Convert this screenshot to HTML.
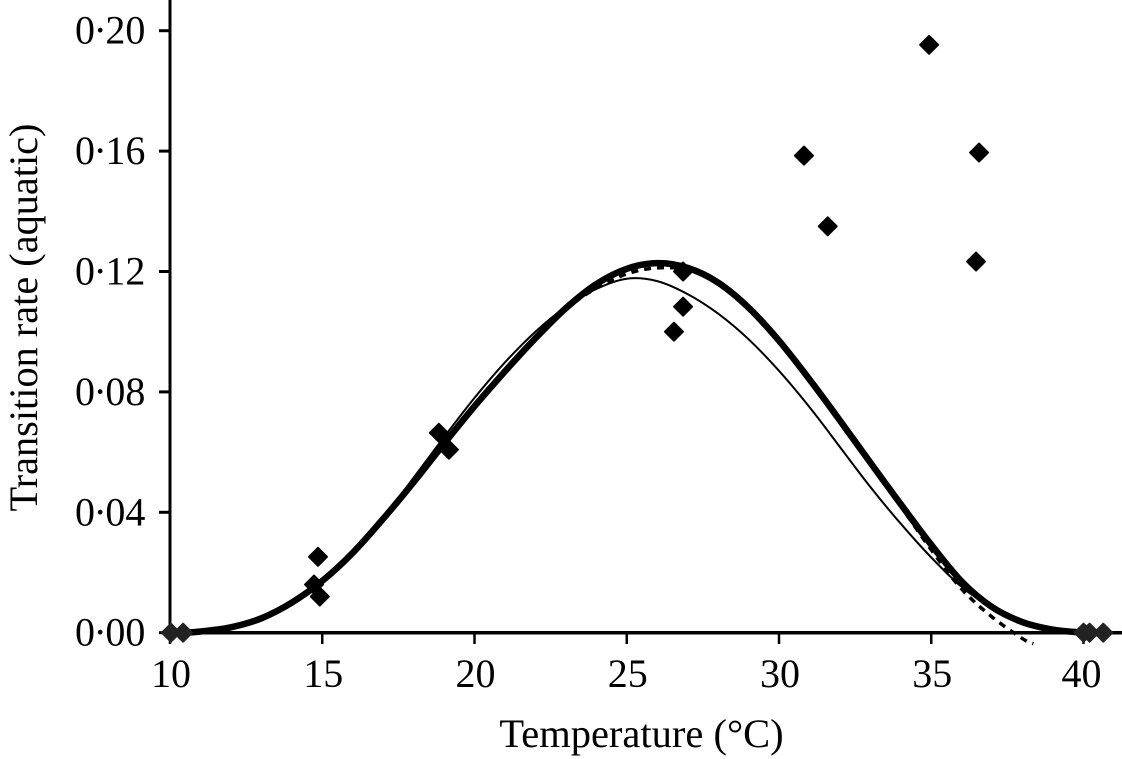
<!DOCTYPE html>
<html>
<head>
<meta charset="utf-8">
<style>
html,body{margin:0;padding:0;background:#fff;width:1122px;height:759px;overflow:hidden}
svg{display:block}
text{font-family:"Liberation Serif",serif;fill:#000;font-size:40px}
</style>
</head>
<body>
<svg id="chart" width="1122" height="759" viewBox="0 0 1122 759"></svg>
<script>
const curveTemps = [10.5,11,12,13,14,15,16,17,18,19,20,21,22,23,24,25,26,27,28,29,30,31,32,33,34,35,36,37,38,39,40];
const thickValues = [0,0.0004,0.0018,0.0048,0.0100,0.0172,0.0265,0.0378,0.0500,0.0628,0.0752,0.0868,0.0978,0.1078,0.1158,0.1209,0.1228,0.1212,0.1163,0.1080,0.0970,0.0842,0.0705,0.0565,0.0427,0.0292,0.0170,0.0085,0.0035,0.0010,0];
const thinValues = [0,0.0004,0.0018,0.0048,0.0100,0.0172,0.0268,0.0384,0.0515,0.0650,0.0780,0.0898,0.1000,0.1082,0.1142,0.1176,0.1168,0.1125,0.1060,0.0975,0.0870,0.0750,0.0617,0.0484,0.0362,0.0250,0.0152,0.0082,0.0035,0.0009,0];
const dashTemps = [22,23,24,25,26,27,28,29,30,31,32,33,34,35,36,37,38,38.35];
const dashValues = [0.0982,0.1075,0.1145,0.1192,0.1212,0.1205,0.1160,0.1078,0.0968,0.0838,0.0700,0.0560,0.0420,0.0275,0.0145,0.0052,-0.0020,-0.0037];
const pointTemps = [10.03,10.43,14.86,14.73,14.92,18.83,19.16,26.55,26.85,26.85,30.82,31.6,34.93,36.57,36.47,40,40.2,40.65];
const pointValues = [0,0,0.0252,0.016,0.012,0.0664,0.0608,0.1,0.1083,0.12,0.1585,0.135,0.1953,0.1595,0.1233,0,0,0];
const xTicks = [10,15,20,25,30,35,40];
const yTicks = [0,0.04,0.08,0.12,0.16,0.20];
const yTickLabels = ["0·00","0·04","0·08","0·12","0·16","0·20"];

const NS = "http://www.w3.org/2000/svg";
const svg = document.getElementById("chart");
const xScale = t => 170 + (t - 10) * 30.45;
const yScale = v => 632.7 - v * 3010;

function make(tag, attrs, parent) {
  const el = document.createElementNS(NS, tag);
  for (const k in attrs) el.setAttribute(k, attrs[k]);
  (parent || svg).appendChild(el);
  return el;
}
function smoothPath(xs, ys) {
  const p = xs.map((x, i) => [xScale(x), yScale(ys[i])]);
  let d = "M" + p[0][0].toFixed(1) + " " + p[0][1].toFixed(1);
  for (let i = 0; i < p.length - 1; i++) {
    const a = p[Math.max(i - 1, 0)], b = p[i], c = p[i + 1], e = p[Math.min(i + 2, p.length - 1)];
    d += " C" + (b[0] + (c[0] - a[0]) / 6).toFixed(1) + " " + (b[1] + (c[1] - a[1]) / 6).toFixed(1) +
         " " + (c[0] - (e[0] - b[0]) / 6).toFixed(1) + " " + (c[1] - (e[1] - b[1]) / 6).toFixed(1) +
         " " + c[0].toFixed(1) + " " + c[1].toFixed(1);
  }
  return d;
}

/* axes */
const yAxis = make("line", {x1:170, y1:0, x2:170, y2:yScale(0), stroke:"#000", "stroke-width":3});


const xAxis = make("line", {x1:168, y1:yScale(0), x2:1122, y2:yScale(0), stroke:"#000", "stroke-width":3.5});



xTicks.forEach(t => {
  const tick = make("line", {x1:xScale(t), y1:yScale(0), x2:xScale(t), y2:644, stroke:"#000", "stroke-width":2.5});
  
  
  const label = make("text", {x:xScale(t) + (t === 40 ? -2 : 1), y:687, "text-anchor":"middle"});
  label.textContent = String(t);
  
  
});
yTicks.forEach((v, i) => {
  const tick = make("line", {x1:159, y1:yScale(v), x2:170, y2:yScale(v), stroke:"#000", "stroke-width":3});
  
  
  const label = make("text", {x:75, y:yScale(v) + 13, dx:"0 -1.5 -1.5 0"});
  label.textContent = yTickLabels[i];
  
  
});

/* curves */
const thick = make("path", {d:smoothPath(curveTemps, thickValues), fill:"none", stroke:"#000", "stroke-width":6.5});


const thin = make("path", {d:smoothPath(curveTemps, thinValues), fill:"none", stroke:"#000", "stroke-width":2});


const dashed = make("path", {d:smoothPath(dashTemps, dashValues), fill:"none", stroke:"#000", "stroke-width":3.5, "stroke-dasharray":"7 6"});



/* observations */
pointTemps.forEach((t, i) => {
  const x = xScale(t), y = yScale(pointValues[i]), r = 9;
  const color = pointValues[i] === 0 ? "#222" : "#000";
  const pt = make("polygon", {
    points: [[x, y - r], [x + r, y], [x, y + r], [x - r, y]].map(q => q.join(",")).join(" "),
    fill: color, stroke: color, "stroke-width": 2, "stroke-linejoin": "round"
  });
  
  
});

/* titles */
const xTitle = make("text", {x:641.5, y:747, "text-anchor":"middle", style:"font-size:40.5px"});
xTitle.textContent = "Temperature (°C)";


const yTitle = make("text", {x:0, y:0, "text-anchor":"middle", transform:"translate(37 317.5) rotate(-90)", style:"font-size:40.3px"});
yTitle.textContent = "Transition rate (aquatic)";


</script>
</body>
</html>
